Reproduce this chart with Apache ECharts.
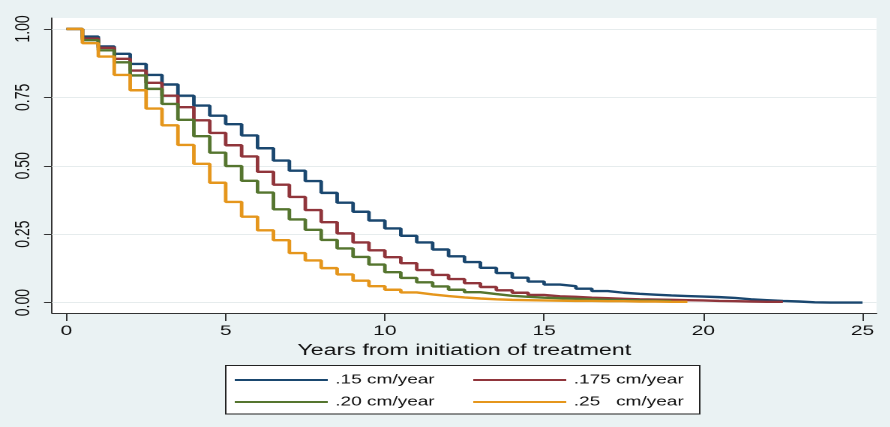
<!DOCTYPE html>
<html>
<head>
<meta charset="utf-8">
<script src="https://cdn.jsdelivr.net/npm/echarts@6/dist/echarts.min.js"></script>
<style>
  html, body { margin: 0; padding: 0; background: #eaf2f3; }
  /* the reference is a Stata graph stretched sideways, so draw narrow and stretch */
  #main { width: 593.333px; height: 427px; transform: scaleX(1.5); transform-origin: 0 0; }
</style>
</head>
<body>
<div id="main"></div>
<script>
// start of each half-year step
const years = [0, 0.5, 1, 1.5, 2, 2.5, 3, 3.5, 4, 4.5, 5, 5.5, 6, 6.5, 7, 7.5, 8, 8.5, 9, 9.5,
  10, 10.5, 11, 11.5, 12, 12.5, 13, 13.5, 14, 14.5, 15, 15.5, 16, 16.5, 17, 17.5, 18, 18.5, 19, 19.5,
  20, 20.5, 21, 21.5, 22, 22.5, 23, 23.5, 24, 24.5];

// survival, one value per step
const surv15 = [1.000, 0.972, 0.936, 0.909, 0.872, 0.832, 0.797, 0.756, 0.720, 0.683,
  0.652, 0.611, 0.564, 0.519, 0.482, 0.444, 0.401, 0.365, 0.332, 0.300,
  0.271, 0.244, 0.220, 0.194, 0.169, 0.148, 0.127, 0.108, 0.091, 0.077,
  0.066, 0.060, 0.051, 0.042, 0.036, 0.032, 0.029, 0.026, 0.024, 0.022,
  0.020, 0.017, 0.012, 0.009, 0.006, 0.004, 0.001, 0.000, 0.000, 0.000];
const surv175 = [1.000, 0.965, 0.931, 0.891, 0.848, 0.803, 0.756, 0.714, 0.666, 0.620,
  0.575, 0.534, 0.478, 0.431, 0.386, 0.338, 0.294, 0.253, 0.220, 0.191,
  0.166, 0.144, 0.119, 0.101, 0.086, 0.071, 0.057, 0.045, 0.036, 0.028,
  0.023, 0.021, 0.018, 0.016, 0.014, 0.012, 0.011, 0.010, 0.009, 0.008,
  0.006, 0.005, 0.004, 0.003, 0.003];
const surv20 = [1.000, 0.959, 0.922, 0.878, 0.830, 0.781, 0.726, 0.668, 0.608, 0.548,
  0.499, 0.445, 0.402, 0.341, 0.304, 0.266, 0.229, 0.198, 0.167, 0.139,
  0.111, 0.090, 0.074, 0.059, 0.047, 0.038, 0.031, 0.025, 0.021, 0.018,
  0.016, 0.014, 0.012, 0.010, 0.009, 0.008, 0.007, 0.006];
const surv25 = [1.000, 0.948, 0.899, 0.832, 0.776, 0.709, 0.648, 0.576, 0.507, 0.438,
  0.368, 0.314, 0.264, 0.228, 0.181, 0.154, 0.126, 0.103, 0.080, 0.060,
  0.047, 0.037, 0.030, 0.024, 0.019, 0.015, 0.012, 0.010, 0.009, 0.008,
  0.007, 0.006, 0.006, 0.005, 0.005, 0.004, 0.004, 0.003, 0.003];

// last time on each curve
const endYears = [25, 22.5, 19, 19.5];

const seriesNames = ['.15 cm/year', '.175 cm/year', '.20 cm/year', '.25   cm/year'];
const seriesColors = ['#1a476f', '#90353b', '#55752f', '#e5961c'];

const xTicks = [0, 5, 10, 15, 20, 25];
const yTicks = [0, 0.25, 0.5, 0.75, 1];

const FONT = "'Liberation Sans', Arial, sans-serif";

function stepData(values, endYear) {
  let pts = values.map((v, i) => [years[i], v]);
  pts.push([endYear, values[values.length - 1]]);
  return pts;
}

const allSurv = [surv15, surv175, surv20, surv25];

let series = [];
for (let i = 0; i < allSurv.length; i++) {
  series.push({
    name: seriesNames[i],
    type: 'line',
    step: 'end',
    data: stepData(allSurv[i], endYears[i]),
    showSymbol: false,
    symbol: 'none',
    lineStyle: { color: seriesColors[i], width: 2.4 },
    itemStyle: { color: seriesColors[i] },
    z: 3 + i
  });
}

// horizontal grid lines at the y ticks
series[0].markLine = {
  silent: true,
  symbol: 'none',
  label: { show: false },
  lineStyle: { color: '#e6eced', width: 1, type: 'solid' },
  data: yTicks.map(v => ({ yAxis: v }))
};
series[0].markLine.z = 1;

// one legend per key so the two columns line up like Stata's
const legendLefts = [156.5, 315.5, 156.5, 315.5];
const legendTops = [373.5, 373.5, 395.5, 395.5];
let legends = seriesNames.map((n, i) => ({
  data: [n],
  left: legendLefts[i],
  top: legendTops[i],
  padding: 0,
  icon: 'rect',
  itemWidth: 62,
  itemHeight: 2,
  selectedMode: false,
  textStyle: { fontFamily: FONT, fontSize: 12.7, color: '#111' }
}));

const chart = echarts.init(document.getElementById('main'), null, { renderer: 'canvas', devicePixelRatio: 2 });

const option = {
  animation: false,
  backgroundColor: '#eaf2f3',
  textStyle: { fontFamily: FONT },
  grid: {
    left: 34.67, right: 8.67, top: 18, bottom: 114,
    show: true, backgroundColor: '#ffffff', borderWidth: 0
  },
  legend: legends,
  graphic: [{
    type: 'rect',
    shape: { x: 150.5, y: 365.5, width: 316, height: 48.5 },
    style: { fill: '#ffffff', stroke: '#222', lineWidth: 1 },
    z: 0
  }],
  xAxis: {
    type: 'value',
    min: -0.455,
    max: 25.44,
    name: 'Years from initiation of treatment',
    nameLocation: 'middle',
    nameGap: 26,
    nameTextStyle: { fontFamily: FONT, fontSize: 15.5, color: '#111' },
    axisLine: { show: true, onZero: false, lineStyle: { color: '#333', width: 1 } },
    axisTick: { show: true, length: 8, customValues: xTicks, lineStyle: { color: '#333' } },
    axisLabel: { customValues: xTicks, margin: 11, fontFamily: FONT, fontSize: 14, color: '#111' },
    splitLine: { show: false }
  },
  yAxis: {
    type: 'value',
    min: -0.038,
    max: 1.04,
    axisLine: { show: true, onZero: false, lineStyle: { color: '#333', width: 1 } },
    axisTick: { show: true, length: 5.3, customValues: yTicks, lineStyle: { color: '#333' } },
    axisLabel: {
      customValues: yTicks, rotate: 90, margin: 12,
      fontFamily: FONT, fontSize: 14, color: '#111',
      formatter: v => v.toFixed(2)
    },
    splitLine: { show: false }
  },
  series: series
};

chart.setOption(option);
</script>
</body>
</html>
